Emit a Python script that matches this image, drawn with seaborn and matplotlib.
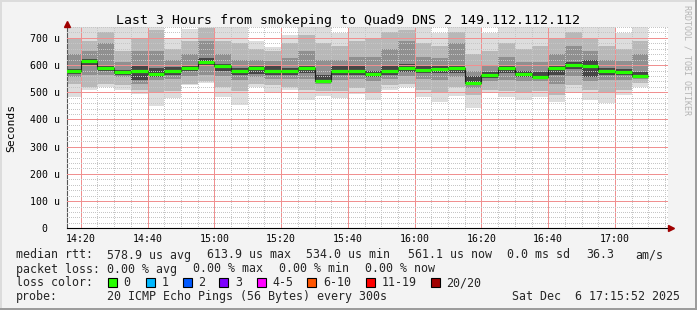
import numpy as np
import pandas as pd
import matplotlib
matplotlib.use("Agg")
import matplotlib.pyplot as plt
import matplotlib.dates as mdates
from matplotlib.patches import Rectangle
from matplotlib.ticker import MultipleLocator, FuncFormatter
import seaborn as sns

# ---------------- data ----------------
title = "Last 3 Hours from smokeping to Quad9 DNS 2 149.112.112.112"
first_bin = "2025-12-06 14:15"
bin_minutes = 5
window_start = "2025-12-06 14:15:52"
window_end = "2025-12-06 17:15:52"

median_rtt = [577, 614, 588, 573, 580, 569, 580, 591, 610, 595,
              577, 588, 580, 577, 588, 543, 580, 580, 566, 580,
              588, 583, 584, 588, 534, 562, 588, 566, 558, 588,
              599, 595, 577, 573, 561]
rtt_min = [484, 507, 519, 509, 494, 450, 479, 525, 534, 484,
           454, 519, 497, 509, 472, 488, 479, 494, 472, 509,
           519, 484, 466, 488, 444, 497, 481, 472, 481, 466,
           500, 473, 460, 491, 519]
rtt_max = [740, 740, 740, 740, 740, 740, 700, 734, 740, 740,
           740, 690, 665, 712, 740, 740, 718, 740, 740, 740,
           740, 740, 718, 740, 740, 718, 740, 740, 740, 740,
           740, 740, 740, 718, 740]
outer_lo = [530, 520, 530, 525, 510, 500, 505, 530, 540, 520,
            505, 530, 525, 520, 510, 505, 505, 515, 500, 525,
            530, 510, 500, 520, 490, 510, 505, 500, 505, 490,
            525, 510, 500, 510, 535]
outer_hi = [700, 690, 720, 650, 700, 730, 660, 690, 735, 690,
            680, 660, 650, 680, 710, 680, 670, 690, 700, 720,
            730, 680, 670, 720, 640, 650, 680, 660, 670, 700,
            720, 700, 670, 660, 690]
mid_lo = [555, 565, 565, 555, 530, 545, 548, 560, 565, 560,
          545, 555, 550, 550, 550, 530, 545, 550, 540, 550,
          560, 550, 545, 555, 515, 540, 545, 540, 540, 530,
          560, 540, 545, 545, 550]
mid_hi = [640, 650, 680, 610, 650, 650, 620, 640, 690, 640,
          620, 620, 615, 625, 650, 620, 620, 630, 630, 660,
          690, 630, 625, 680, 580, 600, 630, 610, 610, 640,
          670, 650, 620, 615, 640]
core_lo = [568, 598, 578, 565, 545, 558, 565, 578, 595, 578,
           562, 568, 565, 565, 570, 538, 565, 565, 555, 565,
           575, 570, 570, 572, 526, 552, 570, 555, 550, 565,
           585, 555, 565, 562, 555]
core_hi = [585, 622, 598, 582, 600, 590, 592, 600, 625, 605,
           590, 598, 595, 588, 600, 565, 595, 595, 580, 595,
           605, 598, 598, 602, 560, 575, 600, 580, 575, 600,
           610, 620, 590, 585, 575]

legend_rtt = ["578.9 us avg", "613.9 us max", "534.0 us min",
              "561.1 us now", "0.0 ms sd", "36.3", "am/s"]
legend_loss = ["0.00 % avg", "0.00 % max", "0.00 % min", "0.00 % now"]
loss_labels = ["0", "1", "2", "3", "4-5", "6-10", "11-19", "20/20"]
loss_colors = ["#26ff00", "#00b8ff", "#0059ff", "#7e00ff",
               "#ff00ff", "#ff5500", "#ff0000", "#a10000"]
probe_text = "20 ICMP Echo Pings (56 Bytes) every 300s"
stamp_text = "Sat Dec  6 17:15:52 2025"

# ---------------- setup ----------------
sns.set_theme(style="white")
plt.rcParams["font.family"] = ["DejaVu Sans Mono", "DejaVu Sans"]
MONO = "DejaVu Sans Mono"

W, H = 697, 310
fig = plt.figure(figsize=(W / 100, H / 100), dpi=100)
fig.patch.set_facecolor("#f3f3f3")

def fx(px):
    return px / W

def fy(py):
    return 1 - py / H

ax_l, ax_r, ax_t, ax_b = 67, 668, 27.0, 228.3
ax = fig.add_axes([fx(ax_l), fy(ax_b), fx(ax_r - ax_l), (ax_b - ax_t) / H])
ax.set_facecolor("white")

starts = pd.date_range(first_bin, periods=len(median_rtt), freq=f"{bin_minutes}min")
x0 = mdates.date2num(starts.to_pydatetime())
width = bin_minutes / 1440.0

# smoke
levels = [(rtt_min, rtt_max, "#dddddd"),
          (outer_lo, outer_hi, "#b8b8b8"),
          (mid_lo, mid_hi, "#909090"),
          (core_lo, core_hi, "#464646")]
for lo, hi, col in levels:
    lo = np.asarray(lo, float)
    hi = np.asarray(hi, float)
    ax.bar(x0, hi - lo, bottom=lo, width=width, align="edge",
           color=col, linewidth=0, zorder=1)

# median line: dark steps + green segments
edges = np.append(x0, x0[-1] + width)
med_ext = np.append(median_rtt, median_rtt[-1])
sns.lineplot(x=edges, y=med_ext, drawstyle="steps-post", color="#202020",
             linewidth=0.8, estimator=None, ax=ax, zorder=3, legend=False)
ax.hlines(median_rtt, x0, x0 + width, colors=loss_colors[0], linewidth=2.3,
          zorder=4)

# axes limits / ticks
ax.set_xlim(mdates.date2num(pd.Timestamp(window_start).to_pydatetime()),
            mdates.date2num(pd.Timestamp(window_end).to_pydatetime()))
ax.set_ylim(0, 740)
ax.xaxis.set_major_locator(mdates.MinuteLocator(byminute=[0, 20, 40]))
ax.xaxis.set_minor_locator(mdates.MinuteLocator(byminute=range(0, 60, 5)))
ax.xaxis.set_major_formatter(mdates.DateFormatter("%H:%M"))
ax.yaxis.set_major_locator(MultipleLocator(100))
ax.yaxis.set_minor_locator(MultipleLocator(20))
ax.yaxis.set_major_formatter(FuncFormatter(lambda v, p: "0" if v == 0 else f"{int(v)} u"))

ax.set_axisbelow(False)
ax.grid(which="minor", color="#c6c6c6", linestyle=(0, (1, 2)), linewidth=0.72,
        antialiased=False, zorder=2)
ax.grid(which="major", color="#f09090", linestyle=(0, (1, 1)), linewidth=0.72,
        antialiased=False, zorder=2)

ax.tick_params(axis="both", which="major", length=2, width=0.7, color="#333333",
               labelsize=7.1, labelcolor="black")
ax.tick_params(axis="both", which="minor", length=0)
ax.tick_params(axis="y", pad=14.2)
ax.tick_params(axis="x", pad=2.2)
for lab in ax.get_yticklabels():
    lab.set_horizontalalignment("center")
    lab.set_fontfamily(MONO)
for lab in ax.get_xticklabels():
    lab.set_fontfamily(MONO)

for s in ["top", "right"]:
    ax.spines[s].set_visible(False)
ax.spines["left"].set_color("#555555")
ax.spines["left"].set_linewidth(0.8)
ax.spines["bottom"].set_color("black")
ax.spines["bottom"].set_linewidth(0.8)
ax.set_xlabel("")
ax.set_ylabel("")

# axis extensions with arrows
ax.plot([0, 0], [1, (ax_b - 23) / (ax_b - ax_t)], transform=ax.transAxes,
        color="#555555", lw=0.8, clip_on=False, zorder=5)
ax.plot([1, (671 - ax_l) / (ax_r - ax_l)], [0, 0], transform=ax.transAxes,
        color="black", lw=0.8, clip_on=False, zorder=5)
ax.plot([0], [(ax_b - 23.5) / (ax_b - ax_t)], marker="^", markersize=5,
        color="#a00000", transform=ax.transAxes, clip_on=False, zorder=6)
ax.plot([(671 - ax_l) / (ax_r - ax_l)], [0], marker=">", markersize=5,
        color="#a00000", transform=ax.transAxes, clip_on=False, zorder=6)

# texts
fig.text(fx(348), fy(24.3), title, ha="center", va="baseline",
         fontsize=9.55, family=MONO, color="black")
fig.text(fx(11), fy(127.5), "Seconds", rotation=90, ha="center", va="center",
         fontsize=8.2, family=MONO, color="black")
fig.text(fx(687.5), fy(60), "RRDTOOL / TOBI OETIKER", rotation=270,
         ha="center", va="center", fontsize=6.0, family=MONO, color="#b4b4b4")

lfs = 8.4
row_y = [258.5, 272.5, 286.4, 300.2]
fig.text(fx(16), fy(row_y[0]), "median rtt:", fontsize=lfs, family=MONO, va="baseline")
for t, px in zip(legend_rtt, [107.3, 207, 306, 407.7, 507.3, 586, 635.3]):
    fig.text(fx(px), fy(row_y[0]), t, fontsize=lfs, family=MONO, va="baseline")
fig.text(fx(16), fy(row_y[1]), "packet loss:", fontsize=lfs, family=MONO, va="baseline")
for t, px in zip(legend_loss, [107.3, 193.3, 279, 365]):
    fig.text(fx(px), fy(row_y[1]), t, fontsize=lfs, family=MONO, va="baseline")
fig.text(fx(16), fy(row_y[2]), "loss color:", fontsize=lfs, family=MONO, va="baseline")
box_x = [108, 145.7, 182.7, 219.3, 256.7, 307.3, 365.7, 430.7]
for lab, col, bx in zip(loss_labels, loss_colors, box_x):
    fig.patches.append(Rectangle((fx(bx), fy(287)), fx(9), 9 / H,
                                 transform=fig.transFigure, facecolor=col,
                                 edgecolor="black", linewidth=0.8))
    fig.text(fx(bx + 15.5), fy(row_y[2]), lab, fontsize=lfs, family=MONO, va="baseline")
fig.text(fx(16), fy(row_y[3]), "probe:", fontsize=lfs, family=MONO, va="baseline")
fig.text(fx(107.3), fy(row_y[3]), probe_text, fontsize=lfs, family=MONO, va="baseline")
fig.text(fx(680), fy(row_y[3]), stamp_text, fontsize=lfs, family=MONO,
         va="baseline", ha="right")

# 3D frame
fig.patches.append(Rectangle((0, fy(2)), 1, 2 / H, transform=fig.transFigure,
                             facecolor="#dcdcdc", edgecolor="none"))
fig.patches.append(Rectangle((0, 0), fx(2), 1, transform=fig.transFigure,
                             facecolor="#dcdcdc", edgecolor="none"))
fig.patches.append(Rectangle((0, 0), 1, 2 / H, transform=fig.transFigure,
                             facecolor="#9c9c9c", edgecolor="none"))
fig.patches.append(Rectangle((fx(W - 2), 0), fx(2), 1, transform=fig.transFigure,
                             facecolor="#9c9c9c", edgecolor="none"))

fig.savefig("out.png", dpi=100, facecolor=fig.get_facecolor())
